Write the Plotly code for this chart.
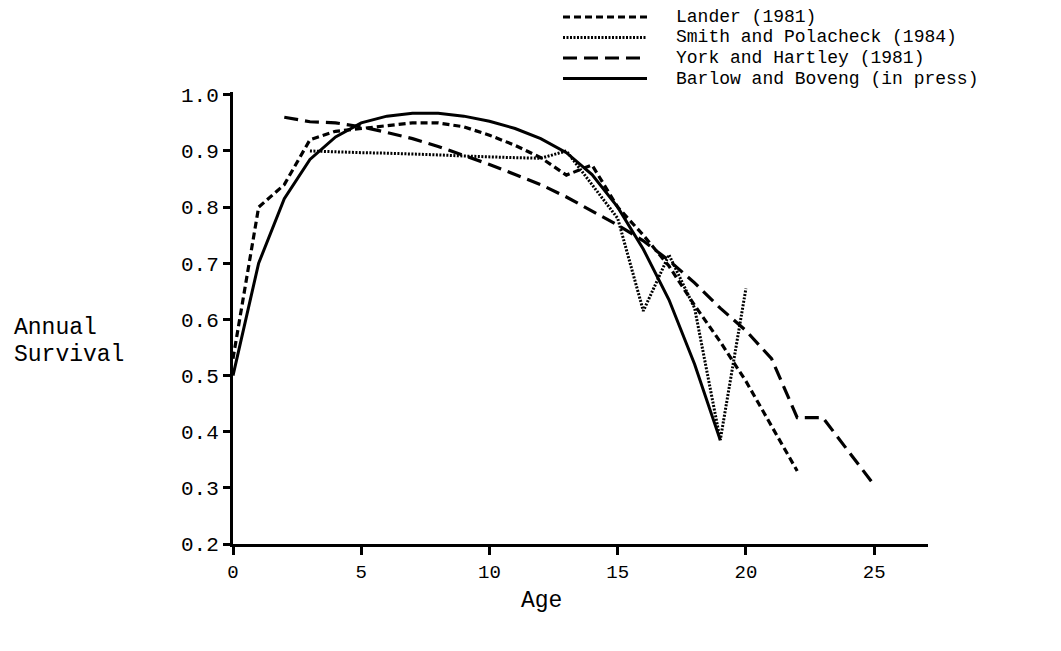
import plotly.graph_objects as go

# ---- data ----
series_names = ["Lander (1981)", "Smith and Polacheck (1984)",
                "York and Hartley (1981)", "Barlow and Boveng (in press)"]

lander_age = list(range(0, 23))
lander_surv = [0.53, 0.80, 0.84, 0.92, 0.935, 0.94, 0.945, 0.95, 0.95, 0.943,
               0.928, 0.91, 0.888, 0.857, 0.875, 0.80, 0.75, 0.695, 0.625,
               0.56, 0.49, 0.41, 0.33]

smith_age = list(range(3, 21))
smith_surv = [0.90, 0.898, 0.897, 0.896, 0.895, 0.893, 0.891, 0.889, 0.888,
              0.887, 0.90, 0.84, 0.78, 0.615, 0.715, 0.62, 0.385, 0.655]

york_age = list(range(2, 26))
york_surv = [0.96, 0.952, 0.95, 0.943, 0.933, 0.922, 0.908, 0.892, 0.876,
             0.858, 0.84, 0.818, 0.793, 0.768, 0.74, 0.705, 0.665, 0.62,
             0.58, 0.53, 0.425, 0.425, 0.365, 0.305]

barlow_age = list(range(0, 20))
barlow_surv = [0.50, 0.70, 0.815, 0.885, 0.925, 0.95, 0.962, 0.967, 0.967,
               0.962, 0.953, 0.94, 0.922, 0.897, 0.858, 0.80, 0.725, 0.635,
               0.52, 0.385]

x_ticks = [0, 5, 10, 15, 20, 25]
y_ticks = [0.2, 0.3, 0.4, 0.5, 0.6, 0.7, 0.8, 0.9, 1.0]

# ---- styling ----
FONT = "Liberation Mono"
W, H = 1061, 651
ML, MR, MT, MB = 233, 133, 92, 107
PW, PH = W - ML - MR, H - MT - MB

def px(x):
    return (x - ML) / PW

def py(y):
    return (H - MB - y) / PH

styles = [
    dict(dash="7px,4px", width=3.2),
    dict(dash="2px,1.5px", width=3),
    dict(dash="14px,7px", width=3.2),
    dict(dash="solid", width=3),
]
data = [(lander_age, lander_surv), (smith_age, smith_surv),
        (york_age, york_surv), (barlow_age, barlow_surv)]

fig = go.Figure()
for name, (xs, ys), st in zip(series_names, data, styles):
    fig.add_trace(go.Scatter(x=xs, y=ys, mode="lines", name=name,
                             line=dict(color="black", width=st["width"], dash=st["dash"]),
                             showlegend=False))

# ---- manual legend ----
shapes = []
annotations = []
row_y = [17, 37.5, 58, 78.5]
for name, st, ry in zip(series_names, styles, row_y):
    shapes.append(dict(type="line", xref="paper", yref="paper",
                       x0=px(563), x1=px(647), y0=py(ry), y1=py(ry),
                       line=dict(color="black", width=st["width"], dash=st["dash"])))
    annotations.append(dict(text=name, xref="paper", yref="paper",
                            x=px(675), y=py(ry), xanchor="left", yanchor="middle",
                            showarrow=False, borderpad=0,
                            font=dict(family=FONT, size=18, color="black")))

# axis titles
annotations.append(dict(text="Annual", xref="paper", yref="paper", x=px(12), y=py(328),
                        xanchor="left", yanchor="middle", showarrow=False,
                        font=dict(family=FONT, size=23, color="black")))
annotations.append(dict(text="Survival", xref="paper", yref="paper", x=px(12), y=py(355),
                        xanchor="left", yanchor="middle", showarrow=False,
                        font=dict(family=FONT, size=23, color="black")))
annotations.append(dict(text="Age", xref="paper", yref="paper", x=px(541), y=py(601),
                        xanchor="center", yanchor="middle", showarrow=False,
                        font=dict(family=FONT, size=23, color="black")))

fig.update_layout(
    width=W, height=H,
    margin=dict(l=ML, r=MR, t=MT, b=MB, pad=0),
    paper_bgcolor="white", plot_bgcolor="white",
    shapes=shapes, annotations=annotations,
    font=dict(family=FONT, color="black"),
)
fig.update_xaxes(range=[0, 27.1], tickvals=x_ticks, ticktext=[str(v) for v in x_ticks],
                 showgrid=False, zeroline=False, showline=True, linecolor="black",
                 linewidth=3, ticks="outside", ticklen=8, tickwidth=2.5, tickcolor="black",
                 tickfont=dict(family=FONT, size=19, color="black"))
fig.update_yaxes(range=[0.2, 1.005], tickvals=y_ticks, ticktext=[f"{v:.1f}" for v in y_ticks],
                 showgrid=False, zeroline=False, showline=True, linecolor="black",
                 linewidth=3, ticks="outside", ticklen=7, tickwidth=2.5, tickcolor="black",
                 tickfont=dict(family=FONT, size=21, color="black"))

fig.write_html("out.html")
